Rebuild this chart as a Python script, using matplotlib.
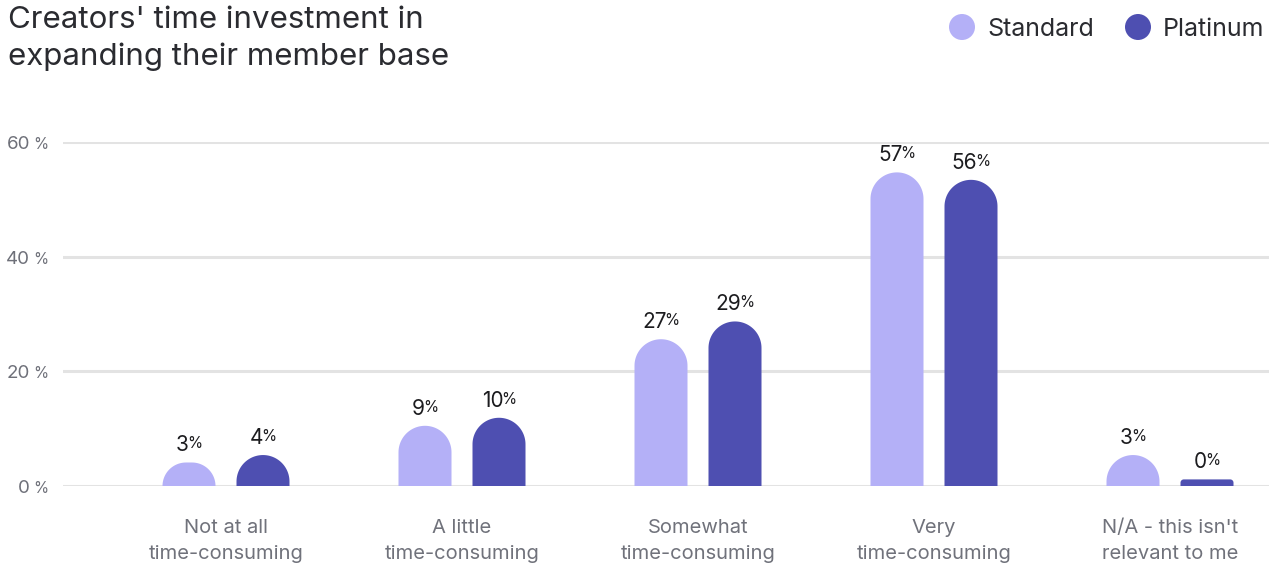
import numpy as np
import matplotlib.pyplot as plt
from matplotlib.patches import Ellipse, Polygon

plt.rcParams['font.family'] = ['Inter', 'DejaVu Sans']

# data
categories = ['Not at all\ntime-consuming', 'A little\ntime-consuming',
              'Somewhat\ntime-consuming', 'Very\ntime-consuming',
              "N/A - this isn't\nrelevant to me"]
standard_labels = [3, 9, 27, 57, 3]
platinum_labels = [4, 10, 29, 56, 0]
# bar heights as drawn in the reference (measured against the gridlines)
standard_bars = [4.1, 10.5, 25.6, 54.7, 5.4]
platinum_bars = [5.4, 11.9, 28.7, 53.4, 1.15]
series_names = ['Standard', 'Platinum']
colors = ['#b4b0f7', '#4e4fb1']
yticks = [0, 20, 40, 60]

W, H, DPI = 1279, 565, 100
fig = plt.figure(figsize=(W / DPI, H / DPI), dpi=DPI)

# axes placement in pixels (from top-left)
ax_left, ax_right = 63, 1269
ax_y0, ax_y60 = 486, 142
ax = fig.add_axes([ax_left / W, (H - ax_y0) / H,
                   (ax_right - ax_left) / W, (ax_y0 - ax_y60) / H])
ax.set_ylim(0, 60)

x = np.arange(len(categories))
spacing_px = 236.0
first_px = 226.0
x_lo = (ax_left - first_px) / spacing_px
x_hi = x_lo + (ax_right - ax_left) / spacing_px
ax.set_xlim(x_lo, x_hi)

bar_px = 53.0
off_px = 37.0
px_per_x = spacing_px
px_per_y = (ax_y0 - ax_y60) / 60.0


def rounded_bar(cx, h, color):
    """Bar with a rounded top, built in pixel space and mapped to data units."""
    h_px = h * px_per_y
    half = bar_px / 2
    rc = min(half, h_px) if h_px >= 15 else h_px / 2
    ang = np.linspace(0, np.pi / 2, 30)
    # right corner (going up), then left corner
    rx = (half - rc) + rc * np.cos(ang)
    ry = (h_px - rc) + rc * np.sin(ang)
    lx = -rx[::-1]
    ly = ry[::-1]
    xs = np.concatenate([[half], rx, lx, [-half]])
    ys = np.concatenate([[0], ry, ly, [0]])
    verts = np.column_stack([cx + xs / px_per_x, ys / px_per_y])
    ax.add_patch(Polygon(verts, closed=True, fc=color, ec='none', zorder=3))


label_texts = []
for labels, bars, sign, c in [(standard_labels, standard_bars, -1, colors[0]),
                              (platinum_labels, platinum_bars, 1, colors[1])]:
    for xi, lab, h in zip(x, labels, bars):
        cx = xi + sign * off_px / px_per_x
        rounded_bar(cx, h, c)
        num = ax.annotate(str(lab), (cx, h), xytext=(0, 11), textcoords='offset pixels',
                          ha='right', va='baseline', fontsize=15, color='#1c1c1f', zorder=4)
        pct = ax.annotate('%', (cx, h), xytext=(0, 13), textcoords='offset pixels',
                          ha='left', va='baseline', fontsize=11, color='#1c1c1f', zorder=4)
        label_texts.append((num, pct))

# grid lines
for t in yticks:
    ax.axhline(t, color='#e3e3e3', lw=2.2, zorder=1)

for sp in ax.spines.values():
    sp.set_visible(False)
ax.set_xticks([])
ax.set_yticks([])

# y tick labels with small percent
for t in yticks:
    ax.annotate(str(t), (x_lo, t), xytext=(-33, -7), textcoords='offset pixels',
                ha='right', va='baseline', fontsize=13.5, color='#6e7079')
    ax.annotate('%', (x_lo, t), xytext=(-30, -7), textcoords='offset pixels',
                ha='left', va='baseline', fontsize=11, color='#6e7079')

# category labels
for xi, lab in zip(x, categories):
    ax.annotate(lab, (xi, 0), xytext=(0, -33), textcoords='offset pixels',
                ha='center', va='top', fontsize=14.5, color='#70727b',
                linespacing=1.58, annotation_clip=False)

# title
fig.text(8 / W, 1 - 6 / H, "Creators' time investment in\nexpanding their member base",
         ha='left', va='top', fontsize=22.5, color='#2a2b30', linespacing=1.37)

# legend
leg_y = 1 - 27 / H
for name, c, cx_px in [(series_names[0], colors[0], 962), (series_names[1], colors[1], 1138)]:
    fig.patches.append(Ellipse((cx_px / W, leg_y), 26 / W, 26 / H, transform=fig.transFigure,
                               fc=c, ec='none'))
    fig.text((cx_px + 25) / W, leg_y, name, ha='left', va='center_baseline',
             fontsize=18, color='#2a2b30')

# center the number+% pairs on the bars
fig.canvas.draw()
r = fig.canvas.get_renderer()
gap = -2.0
for num, pct in label_texts:
    wn = num.get_window_extent(r).width
    wp = pct.get_window_extent(r).width
    shift = (wn - wp - gap) / 2
    num.xyann = (shift, 11)
    pct.xyann = (shift + gap, 14)

fig.savefig('out.png', dpi=DPI)
